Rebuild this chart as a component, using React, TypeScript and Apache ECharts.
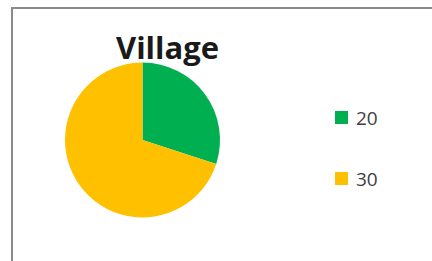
import React, { useEffect, useRef } from "react";
import * as echarts from "echarts";

const categories = ["20", "30"];
const values = [30, 70];
const colors = ["#00B050", "#FFC000"];
const titleText = "Village";

export default function App() {
  const ref = useRef<HTMLDivElement>(null);
  useEffect(() => {
    if (!ref.current) return;
    const chart = echarts.init(ref.current, undefined, { renderer: "svg" });
    chart.setOption({
      animation: false,
      backgroundColor: "#ffffff",
      title: {
        text: titleText,
        left: 116,
        top: 31,
        padding: 0,
        textStyle: {
          fontFamily: "Open Sans",
          fontWeight: "bold",
          fontSize: 31,
          color: "#1a1a1a",
        },
      },
      legend: {
        orient: "vertical",
        left: 330,
        top: 103,
        itemWidth: 13,
        itemHeight: 13,
        itemGap: 42,
        icon: "rect",
        textStyle: {
          fontFamily: "Open Sans",
          fontSize: 19,
          color: "#404040",
          padding: [0, 0, 0, 3],
        },
        data: categories,
      },
      graphic: [
        {
          type: "rect",
          shape: { x: 12, y: 8, width: 440, height: 280 },
          style: { fill: "none", stroke: "#8a8a8a", lineWidth: 2 },
        },
      ],
      series: [
        {
          type: "pie",
          center: [142.5, 140],
          radius: 77.5,
          startAngle: 90,
          clockwise: true,
          label: { show: false },
          labelLine: { show: false },
          emphasis: { disabled: true },
          data: categories.map((c, i) => ({
            name: c,
            value: values[i],
            itemStyle: { color: colors[i] },
          })),
        },
      ],
    });
    return () => chart.dispose();
  }, []);
  return (
    <div
      ref={ref}
      style={{ position: "absolute", left: 0, top: 0, width: 432, height: 261 }}
    />
  );
}
